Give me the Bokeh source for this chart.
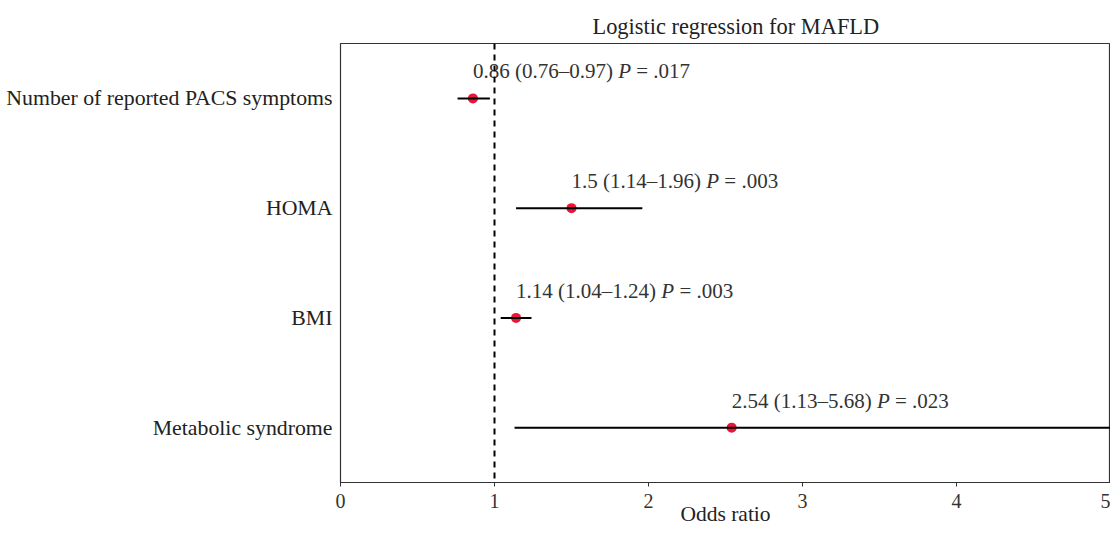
from bokeh.plotting import figure
from bokeh.models import ColumnDataSource, Span, FactorRange, Range1d, FixedTicker
from bokeh.core.properties import value
from bokeh.embed import file_html
from bokeh.resources import INLINE

# ---- data ----
variables = ["Number of reported PACS symptoms", "HOMA", "BMI", "Metabolic syndrome"]
odds_ratio = [0.86, 1.5, 1.14, 2.54]
ci_low = [0.76, 1.14, 1.04, 1.13]
ci_high = [0.97, 1.96, 1.24, 5.68]
or_labels = ["0.86", "1.5", "1.14", "2.54"]
low_labels = ["0.76", "1.14", "1.04", "1.13"]
high_labels = ["0.97", "1.96", "1.24", "5.68"]
p_labels = [".017", ".003", ".003", ".023"]
x_ticks = [0, 1, 2, 3, 4, 5]
x_label = "Odds ratio"
title_text = "Logistic regression for MAFLD"

FONT = "Liberation Serif"
ANN_SIZE = 21

# Times-compatible advance widths (per 1000 em) for placing the italic "P"
W = {str(d): 500 for d in range(10)}
W.update({".": 250, " ": 250, "(": 333, ")": 333, "\u2013": 500, "=": 564})
P_ITALIC = 611


def text_width(s, size):
    return sum(W.get(c, 500) for c in s) * size / 1000.0


part1 = [f"{o} ({l}\u2013{h})" for o, l, h in zip(or_labels, low_labels, high_labels)]
part3 = [f"= {pv}" for pv in p_labels]
off_p = [text_width(s + " ", ANN_SIZE) for s in part1]
off_3 = [w + (P_ITALIC + 250) * ANN_SIZE / 1000.0 for w in off_p]

src = ColumnDataSource(dict(
    var=variables, orv=odds_ratio, lo=ci_low, hi=ci_high,
    t1=part1, tp=["P"] * len(variables), t3=part3, op=off_p, o3=off_3,
))

p = figure(
    width=1110, height=532,
    x_range=Range1d(0, 5),
    y_range=FactorRange(factors=variables[::-1]),
    output_backend="svg", toolbar_location=None,
    title=title_text,
    min_border_left=340, min_border_right=0, min_border_top=43, min_border_bottom=50,
)
p.background_fill_color = "white"
p.border_fill_color = "white"
p.outline_line_color = "#333333"
p.outline_line_width = 1.2
p.grid.visible = False

p.title.align = "left"
p.title.text_font = FONT
p.title.text_font_size = "22.4px"
p.title.text_font_style = "normal"
p.title.text_color = "#222222"
p.title.offset = 252
p.title.standoff = 10

# x axis
xa = p.xaxis[0]
xa.ticker = FixedTicker(ticks=x_ticks)
xa.minor_tick_line_color = None
xa.major_tick_in = 0
xa.major_tick_out = 4
xa.major_label_standoff = 7
xa.major_label_text_font = FONT
xa.major_label_text_font_size = "20px"
xa.major_label_text_color = "#333333"
xa.axis_line_color = "#333333"
xa.major_tick_line_color = "#333333"
xa.axis_label = x_label
xa.axis_label_text_font = FONT
xa.axis_label_text_font_size = "21.5px"
xa.axis_label_text_font_style = "normal"
xa.axis_label_text_color = "#222222"
xa.axis_label_standoff = -9

# y axis
ya = p.yaxis[0]
ya.major_tick_line_color = None
ya.minor_tick_line_color = None
ya.major_tick_in = 0
ya.major_tick_out = 0
ya.major_label_standoff = 8
ya.major_label_text_font = FONT
ya.major_label_text_font_size = "21.8px"
ya.major_label_text_color = "#222222"
ya.axis_line_color = "#333333"

# reference line at OR = 1
p.add_layout(Span(location=1, dimension="height", line_color="black",
                  line_width=2, line_dash="6 5"))

# points and CI lines
p.scatter("orv", "var", source=src, size=10, color="#e8173a", line_color=None)
p.segment(x0="lo", x1="hi", y0="var", y1="var", source=src,
          line_color="black", line_width=2)

# annotations
common = dict(source=src, y="var", text_font=value(FONT),
              text_font_size=value(f"{ANN_SIZE}px"), text_color="#333333",
              text_baseline="middle", text_align="left", y_offset=-27)
p.text(x="orv", text="t1", **common)
p.text(x="orv", text="tp", x_offset="op", text_font_style="italic", **common)
p.text(x="orv", text="t3", x_offset="o3", **common)

open("out.html", "w").write(file_html(p, INLINE))
